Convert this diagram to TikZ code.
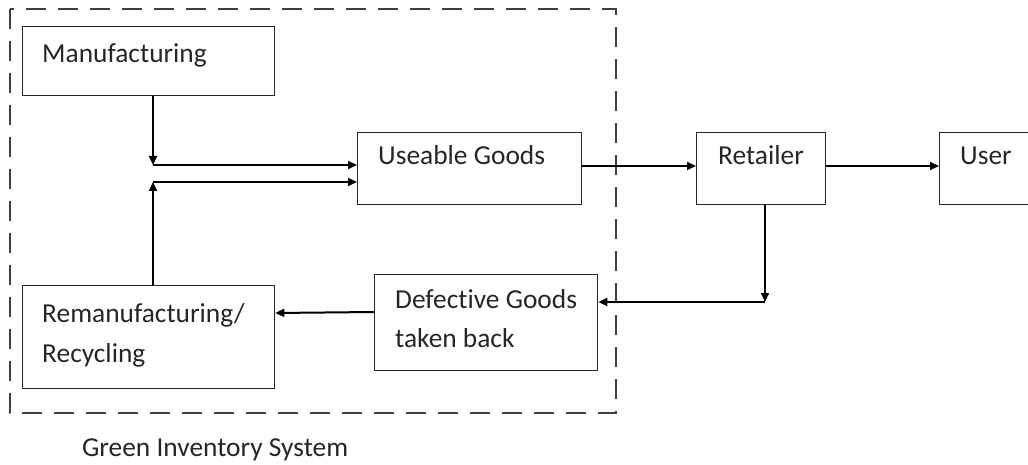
\documentclass[tikz,border=0pt]{standalone}
\usepackage{fontspec}
\setmainfont{Carlito}[Ligatures={NoCommon}]
\usetikzlibrary{arrows.meta,calc}
\begin{document}
\begin{tikzpicture}[x=1pt,y=-1pt,
  box/.style={draw=black!85,line width=1.3pt,minimum width=#1,inner sep=0pt,anchor=north west},
  txt/.style={anchor=base west,inner sep=0pt,font=\fontsize{27.4}{40}\selectfont,text=black!85},
  arr/.style={line width=2pt,-{Triangle[length=9pt,width=8pt]}},
  frame/.style={draw=black!75,line width=1.3pt,dash pattern=on 20pt off 12pt}]
\useasboundingbox (0,0) rectangle (1028,465);
\clip (0,0) rectangle (1028,465);
% frame
\draw[frame] (10,9) rectangle (616,413);
% boxes
\node[box=252pt,minimum height=69pt] (man) at (22,26) {};
\node[box=224pt,minimum height=72pt] (use) at (357,132) {};
\node[box=129pt,minimum height=72pt] (ret) at (696,132) {};
\node[box=120pt,minimum height=72pt] (usr) at (939,132) {};
\node[box=223pt,minimum height=96pt] (def) at (374,274) {};
\node[box=252pt,minimum height=103pt] (rem) at (22,285) {};
% texts
\node[txt] (tman) at (42,63) {Manufacturing};
\node[txt] (tuse) at (378,165) {Useable Goods};
\node[txt] (tret) at (718,165) {Retailer};
\node[txt] (tusr) at (960,165) {User};
\node[txt] (tdef1) at (395,308) {Defective Goods};
\node[txt] (tdef2) at (395,347) {taken back};
\node[txt] (trem1) at (42,322) {Remanufacturing/};
\node[txt] (trem2) at (42,362) {Recycling};
\node[txt] (tcap) at (82,456) {Green Inventory System};
% coordinates
\coordinate (m1) at (153,165);
\coordinate (r1) at (153,182);
\coordinate (d1) at (765,302);
% connectors
\draw[arr] (man.south -| m1) -- (m1);
\draw[arr] (m1) -- (use.west |- m1);
\draw[arr] (rem.north -| r1) -- (r1);
\draw[arr] (r1) -- (use.west |- r1);
\draw[arr] (use.east |- 0,166) -- (ret.west |- 0,166);
\draw[arr] (ret.east |- 0,166) -- (usr.west |- 0,166);
\draw[arr] (ret.south -| d1) -- (d1);
\draw[arr] (d1) -- (def.east |- d1);
\draw[arr] (def.west |- 0,312) -- (rem.east |- 0,313);
\end{tikzpicture}
\end{document}
